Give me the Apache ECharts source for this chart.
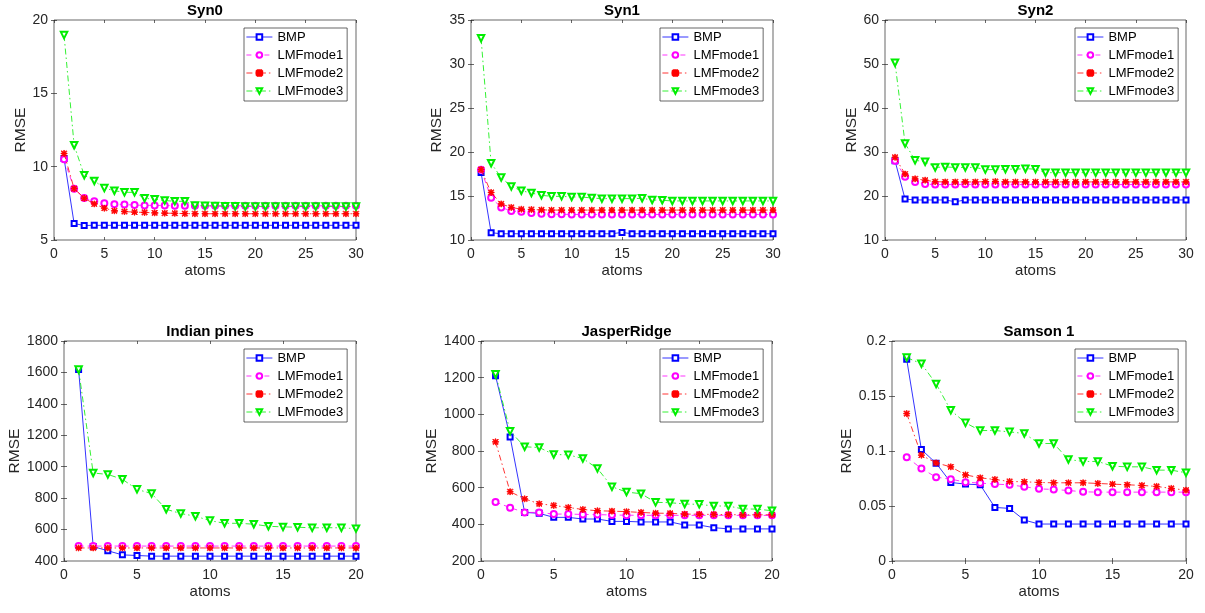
<!DOCTYPE html>
<html>
<head>
<meta charset="utf-8">
<title>RMSE vs atoms</title>
<script src="https://cdn.jsdelivr.net/npm/echarts@6/dist/echarts.min.js"></script>
<style>
  html, body { margin: 0; padding: 0; background: #fff; }
  #chart { width: 1205px; height: 613px; }
</style>
</head>
<body>
<div id="chart"></div>
<script>
// number of atoms on the x axis
var atoms30 = [1, 2, 3, 4, 5, 6, 7, 8, 9, 10, 11, 12, 13, 14, 15, 16, 17, 18, 19, 20, 21, 22, 23, 24, 25, 26, 27, 28, 29, 30]
var atoms20 = [1, 2, 3, 4, 5, 6, 7, 8, 9, 10, 11, 12, 13, 14, 15, 16, 17, 18, 19, 20]

var methodNames = ['BMP', 'LMFmode1', 'LMFmode2', 'LMFmode3']

// Syn0
var syn0Bmp = [10.55, 6.12, 5.99, 6.0, 6.0, 6.0, 6.0, 6.0, 6.0, 6.0, 6.0, 6.0, 6.0, 6.0, 6.0, 6.0, 6.0, 6.0, 6.0, 6.0, 6.0, 6.0, 6.0, 6.0, 6.0, 6.0, 6.0, 6.0, 6.0, 6.0]
var syn0Lmf1 = [10.5, 8.5, 7.87, 7.64, 7.51, 7.44, 7.42, 7.38, 7.36, 7.36, 7.35, 7.34, 7.34, 7.33, 7.33, 7.33, 7.33, 7.33, 7.33, 7.33, 7.33, 7.33, 7.33, 7.33, 7.33, 7.33, 7.33, 7.33, 7.33, 7.33]
var syn0Lmf2 = [10.9, 8.5, 7.85, 7.46, 7.17, 6.99, 6.94, 6.9, 6.88, 6.85, 6.83, 6.82, 6.8, 6.79, 6.79, 6.79, 6.79, 6.79, 6.79, 6.79, 6.79, 6.79, 6.79, 6.79, 6.79, 6.79, 6.79, 6.79, 6.79, 6.79]
var syn0Lmf3 = [18.97, 11.46, 9.42, 9.03, 8.54, 8.36, 8.25, 8.25, 7.84, 7.78, 7.69, 7.64, 7.64, 7.35, 7.33, 7.32, 7.3, 7.3, 7.29, 7.29, 7.29, 7.29, 7.28, 7.28, 7.28, 7.28, 7.28, 7.28, 7.28, 7.28]

// Syn1
var syn1Bmp = [17.67, 10.83, 10.71, 10.71, 10.71, 10.71, 10.71, 10.71, 10.71, 10.71, 10.71, 10.71, 10.71, 10.71, 10.86, 10.71, 10.71, 10.71, 10.71, 10.71, 10.71, 10.71, 10.71, 10.71, 10.71, 10.71, 10.71, 10.71, 10.71, 10.71]
var syn1Lmf1 = [17.97, 14.8, 13.7, 13.3, 13.2, 13.08, 12.97, 12.93, 12.92, 12.9, 12.9, 12.9, 12.9, 12.9, 12.9, 12.9, 12.9, 12.9, 12.9, 12.9, 12.9, 12.9, 12.9, 12.9, 12.9, 12.9, 12.9, 12.9, 12.9, 12.9]
var syn1Lmf2 = [18.0, 15.4, 14.1, 13.7, 13.5, 13.46, 13.42, 13.4, 13.4, 13.4, 13.4, 13.4, 13.4, 13.4, 13.4, 13.4, 13.4, 13.4, 13.4, 13.4, 13.4, 13.4, 13.4, 13.4, 13.4, 13.4, 13.4, 13.4, 13.4, 13.4]
var syn1Lmf3 = [32.93, 18.72, 17.1, 16.09, 15.6, 15.34, 15.08, 14.96, 14.96, 14.89, 14.89, 14.77, 14.7, 14.7, 14.7, 14.7, 14.74, 14.55, 14.51, 14.44, 14.44, 14.44, 14.44, 14.44, 14.44, 14.44, 14.44, 14.44, 14.44, 14.44]

// Syn2
var syn2Bmp = [28.0, 19.3, 19.1, 19.1, 19.1, 19.1, 18.7, 19.1, 19.1, 19.1, 19.1, 19.1, 19.1, 19.1, 19.1, 19.1, 19.1, 19.1, 19.1, 19.1, 19.1, 19.1, 19.1, 19.1, 19.1, 19.1, 19.1, 19.1, 19.1, 19.1]
var syn2Lmf1 = [28.0, 24.4, 23.2, 22.7, 22.6, 22.6, 22.6, 22.65, 22.6, 22.6, 22.6, 22.6, 22.6, 22.6, 22.6, 22.6, 22.6, 22.6, 22.6, 22.6, 22.6, 22.6, 22.6, 22.6, 22.6, 22.6, 22.6, 22.6, 22.6, 22.6]
var syn2Lmf2 = [28.8, 25.0, 23.9, 23.6, 23.25, 23.2, 23.2, 23.2, 23.2, 23.25, 23.3, 23.2, 23.2, 23.2, 23.2, 23.2, 23.2, 23.2, 23.2, 23.2, 23.2, 23.2, 23.2, 23.2, 23.2, 23.2, 23.2, 23.2, 23.2, 23.2]
var syn2Lmf3 = [50.27, 31.93, 28.1, 27.8, 26.5, 26.6, 26.5, 26.5, 26.5, 26.0, 26.0, 26.1, 26.1, 26.2, 26.1, 25.3, 25.3, 25.3, 25.3, 25.3, 25.3, 25.3, 25.3, 25.3, 25.3, 25.3, 25.3, 25.3, 25.3, 25.3]

// Indian pines
var indianBmp = [1618, 492, 465, 439, 435, 431, 431, 431, 431, 431, 431, 431, 431, 431, 431, 431, 431, 431, 431, 431]
var indianLmf1 = [495, 495, 495, 495, 495, 495, 495, 495, 495, 495, 495, 495, 495, 495, 495, 495, 495, 495, 495, 495]
var indianLmf2 = [483, 483, 483, 483, 483, 483, 483, 483, 483, 483, 483, 483, 483, 483, 483, 483, 483, 483, 483, 483]
var indianLmf3 = [1618, 960, 951, 920, 856, 829, 729, 702, 685, 657, 640, 640, 634, 621, 617, 615, 611, 612, 611, 606]

// JasperRidge
var jasperBmp = [1210, 877, 465, 460, 438, 438, 429, 429, 416, 416, 413, 413, 413, 396, 396, 382, 375, 375, 375, 375]
var jasperLmf1 = [522, 491, 465, 465, 456, 456, 454, 453, 451, 450, 449, 449, 449, 449, 449, 449, 449, 449, 449, 449]
var jasperLmf2 = [850, 578, 539, 512, 503, 492, 481, 474, 472, 469, 465, 461, 460, 456, 455, 454, 453, 452, 452, 452]
var jasperLmf3 = [1219, 908, 823, 819, 781, 779, 759, 705, 605, 576, 567, 520, 518, 511, 509, 500, 500, 484, 483, 474]

// Samson 1
var samsonBmp = [0.1833, 0.1013, 0.0889, 0.0714, 0.0699, 0.0693, 0.0487, 0.0478, 0.0372, 0.0336, 0.0336, 0.0336, 0.0336, 0.0336, 0.0336, 0.0336, 0.0336, 0.0336, 0.0336, 0.0336]
var samsonLmf1 = [0.0944, 0.0841, 0.0762, 0.0744, 0.0717, 0.0708, 0.0699, 0.0693, 0.0675, 0.0656, 0.065, 0.0641, 0.0629, 0.0626, 0.0626, 0.0626, 0.0626, 0.0626, 0.0626, 0.0626]
var samsonLmf2 = [0.134, 0.0962, 0.0892, 0.0856, 0.0783, 0.0756, 0.0741, 0.0723, 0.072, 0.0714, 0.0711, 0.0711, 0.0711, 0.0705, 0.0699, 0.0693, 0.0687, 0.0678, 0.066, 0.0644]
var samsonLmf3 = [0.1849, 0.1794, 0.161, 0.137, 0.1256, 0.1186, 0.1186, 0.1174, 0.1159, 0.1068, 0.1068, 0.0923, 0.0905, 0.0905, 0.0862, 0.0856, 0.0856, 0.0826, 0.0826, 0.0802]

var font = 'Liberation Sans, Arial, Helvetica, sans-serif'
var axisColor = '#262626'
// matlab '*' marker
var starPath = 'path://M4.3 0H5.7V10H4.3Z M0 4.3H10V5.7H0Z M1.3 0.3L9.7 8.7L8.7 9.7L0.3 1.3Z M8.7 0.3L9.7 1.3L1.3 9.7L0.3 8.7Z'

var obj = {

  panels: [
    { title: 'Syn0', x: atoms30, ys: [syn0Bmp, syn0Lmf1, syn0Lmf2, syn0Lmf3], xMax: 30, yMin: 5, yMax: 20, yStep: 5,
      box: [54, 20, 302, 220], nameGap: 24, legend: [244, 28] },
    { title: 'Syn1', x: atoms30, ys: [syn1Bmp, syn1Lmf1, syn1Lmf2, syn1Lmf3], xMax: 30, yMin: 10, yMax: 35, yStep: 5,
      box: [471, 20, 302, 220], nameGap: 26, legend: [660, 28] },
    { title: 'Syn2', x: atoms30, ys: [syn2Bmp, syn2Lmf1, syn2Lmf2, syn2Lmf3], xMax: 30, yMin: 10, yMax: 60, yStep: 10,
      box: [885, 20, 301, 220], nameGap: 25, legend: [1075, 28] },
    { title: 'Indian pines', x: atoms20, ys: [indianBmp, indianLmf1, indianLmf2, indianLmf3], xMax: 20, yMin: 400, yMax: 1800, yStep: 200,
      box: [64, 341, 292, 220], nameGap: 40, legend: [244, 349] },
    { title: 'JasperRidge', x: atoms20, ys: [jasperBmp, jasperLmf1, jasperLmf2, jasperLmf3], xMax: 20, yMin: 200, yMax: 1400, yStep: 200,
      box: [481, 341, 291, 220], nameGap: 29, legend: [660, 349] },
    { title: 'Samson 1', x: atoms20, ys: [samsonBmp, samsonLmf1, samsonLmf2, samsonLmf3], xMax: 20, yMin: 0, yMax: 0.2, yStep: 0.05,
      box: [892, 341, 294, 220], nameGap: 37, legend: [1075, 349] }
  ],

  // line look of each method, like matlab 'b-s', 'm--o', 'r-.*', 'g-.v'
  methodStyle: [
    { color: '#0000ff', dash: 'solid', symbol: 'emptyRect', size: 5, rotate: 0 },
    { color: '#ff00ff', dash: [5, 4], symbol: 'emptyCircle', size: 6, rotate: 0 },
    { color: '#ff0000', dash: [6, 3, 1.5, 3], symbol: starPath, size: 6, rotate: 0 },
    { color: '#00ee00', dash: [6, 3, 1.5, 3], symbol: 'emptyTriangle', size: 6.5, rotate: 180 }
  ],

  buildOption: function () {
    let that = this
    let option = {
      animation: false,
      backgroundColor: '#fff',
      textStyle: { fontFamily: font },
      title: [], grid: [], xAxis: [], yAxis: [], legend: [], series: []
    }

    $each(that.panels, function (i, p) {
      let b = p.box
      option.grid.push({ left: b[0], top: b[1], width: b[2], height: b[3], show: true,
        borderColor: axisColor, borderWidth: 0.7, containLabel: false })

      option.title.push({
        text: p.title, left: b[0] + b[2] / 2, top: b[1] - 18, textAlign: 'center', padding: 0,
        textStyle: { fontFamily: font, fontSize: 15, fontWeight: 'bold', color: '#000', lineHeight: 17 }
      })

      let tick = { show: true, inside: true, length: 3, lineStyle: { color: axisColor, width: 0.7 } }
      let label = { color: axisColor, fontSize: 14, fontFamily: font, formatter: function (v) { return String(v) } }

      // bottom + top x axes
      option.xAxis.push({
        gridIndex: i, type: 'value', position: 'bottom', min: 0, max: p.xMax, interval: 5,
        name: 'atoms', nameLocation: 'middle', nameGap: 23,
        nameTextStyle: { color: axisColor, fontSize: 15, fontFamily: font },
        axisLine: { show: false }, axisTick: tick, splitLine: { show: false },
        axisLabel: Object.assign({ margin: 7 }, label)
      })
      option.xAxis.push({
        gridIndex: i, type: 'value', position: 'top', min: 0, max: p.xMax, interval: 5,
        axisLine: { show: false }, axisTick: tick, splitLine: { show: false }, axisLabel: { show: false }
      })

      // left + right y axes
      option.yAxis.push({
        gridIndex: i, type: 'value', position: 'left', min: p.yMin, max: p.yMax, interval: p.yStep,
        name: 'RMSE', nameLocation: 'middle', nameGap: p.nameGap,
        nameTextStyle: { color: axisColor, fontSize: 15.5, fontFamily: font },
        axisLine: { show: false }, axisTick: tick, splitLine: { show: false },
        axisLabel: Object.assign({ margin: 6 }, label)
      })
      option.yAxis.push({
        gridIndex: i, type: 'value', position: 'right', min: p.yMin, max: p.yMax, interval: p.yStep,
        axisLine: { show: false }, axisTick: tick, splitLine: { show: false }, axisLabel: { show: false }
      })

      option.legend.push({
        orient: 'vertical', left: p.legend[0], top: p.legend[1], data: methodNames,
        selectedMode: false, backgroundColor: '#fff', borderColor: axisColor, borderWidth: 0.7,
        borderRadius: 0, padding: [2, 4, 3, 2], itemWidth: 26, itemHeight: 7, itemGap: 4,
        lineStyle: { width: 0.8 },
        textStyle: { color: '#000', fontSize: 13, fontFamily: font, lineHeight: 14 }
      })

      $each(p.ys, function (k, ys) {
        let s = that.methodStyle[k]
        let pts = []
        $each(ys, function (j, v) { pts.push([p.x[j], v]) })
        option.series.push({
          name: methodNames[k], type: 'line', xAxisIndex: 2 * i, yAxisIndex: 2 * i,
          data: pts, symbol: s.symbol, symbolSize: s.size, symbolRotate: s.rotate,
          showAllSymbol: true, z: 2 + k,
          lineStyle: { color: s.color, width: 0.8, type: s.dash },
          itemStyle: { color: s.color, borderColor: s.color, borderWidth: 0.8 }
        })
      })
    })
    return option
  },

  init: function () {
    let myChart = echarts.init(document.getElementById('chart'))
    myChart.setOption(this.buildOption(), true)
  }
}

function $each(arr, fn) {
  for (let i = 0; i < arr.length; i++) fn(i, arr[i])
}

obj.init()
</script>
</body>
</html>
